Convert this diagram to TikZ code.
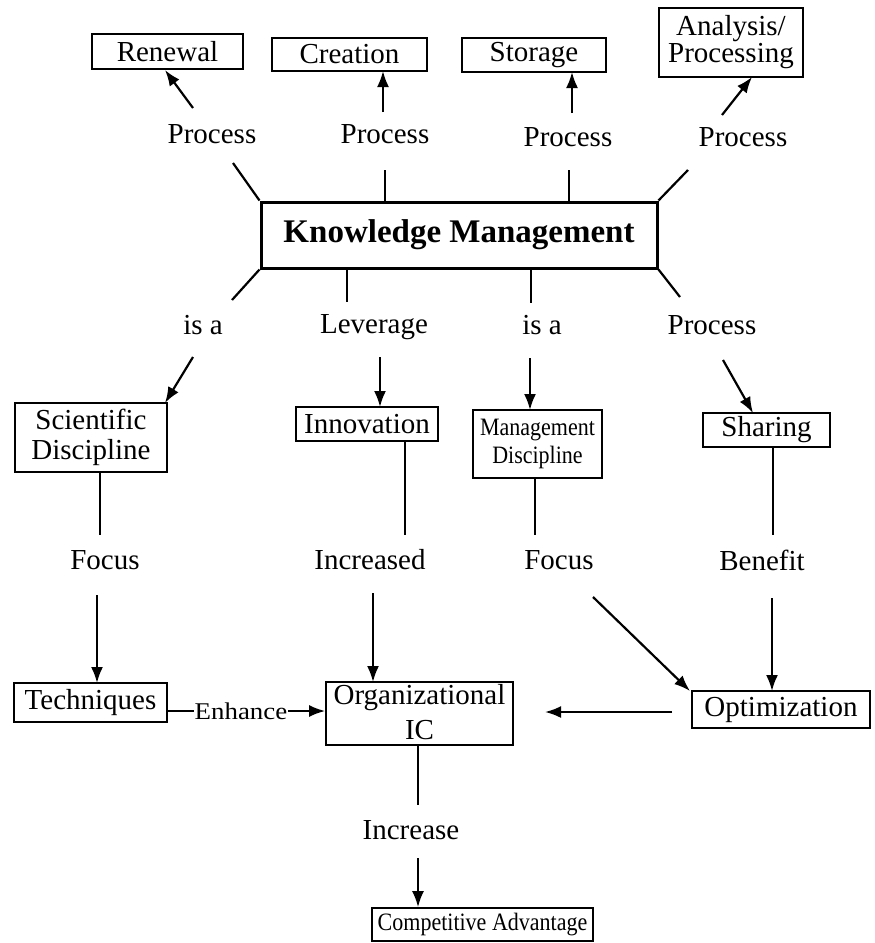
\documentclass[tikz,border=0pt]{standalone}
\usepackage{fontspec}
\setmainfont{Liberation Serif}
\usetikzlibrary{arrows.meta,calc}
\newcommand{\lblfont}{\fontsize{29}{30}\selectfont}
\newcommand{\narrowbox}{\fontsize{25}{28}\selectfont}
\newcommand{\nrw}[1]{\scalebox{0.88}[1]{#1}}
\begin{document}
\begin{tikzpicture}[x=1pt,y=-1pt,
  box/.style={draw,line width=1.6pt,inner sep=0pt,font=\lblfont,align=center},
  lab/.style={inner sep=0pt,font=\lblfont},
  ln/.style={line width=2.2pt},
  arr/.style={ln,-{Latex[length=16pt,width=12pt]}}]
\fill[white] (0,0) rectangle (875,943);
\useasboundingbox (0,0) rectangle (875,943);

% top row of process targets
\node[box,minimum width=151,minimum height=35] (renewal) at (167.5,51.5) {Renewal};
\node[box,minimum width=155,minimum height=33] (creation) at (349.5,54.5) {Creation};
\node[box,minimum width=144,minimum height=34] (storage) at (534,55) {Storage};
\node[box,minimum width=144,minimum height=69] (analysis) at (731,42.5) {Analysis/\\[-3pt]Processing};

\node[lab] (p1) at (212,134) {Process};
\node[lab] (p2) at (385,134) {Process};
\node[lab] (p3) at (568,137) {Process};
\node[lab] (p4) at (743,137) {Process};

% central concept
\node[draw,line width=3pt,inner sep=0pt,minimum width=396,minimum height=66,
      font=\fontsize{33}{36}\selectfont\bfseries] (km) at (459,235) {Knowledge Management};

% connectors to the top row
\coordinate (t1a) at (193,108); \coordinate (t1b) at (165,70);
\coordinate (t2a) at (383,112); \coordinate (t2b) at (383,71);
\coordinate (t3a) at (572,113); \coordinate (t3b) at (572,72);
\coordinate (t4a) at (722,115); \coordinate (t4b) at (752,77);
\draw[arr] (t1a) -- (t1b);
\draw[arr] (t2a) -- (t2b);
\draw[arr] (t3a) -- (t3b);
\draw[arr] (t4a) -- (t4b);

\coordinate (u1) at (233,163);
\coordinate (u2) at (385,170); \coordinate (u2k) at (385,202);
\coordinate (u3) at (569,170); \coordinate (u3k) at (569,202);
\coordinate (u4) at (688,170);
\draw[ln] (u1) -- (km.north west);
\draw[ln] (u2) -- (u2k);
\draw[ln] (u3) -- (u3k);
\draw[ln] (u4) -- (km.north east);

% second row
\coordinate (d1) at (232,300);
\coordinate (d2k) at (347,268); \coordinate (d2) at (347,302);
\coordinate (d3k) at (531,268); \coordinate (d3) at (531,303);
\coordinate (d4) at (680,297);
\draw[ln] (km.south west) -- (d1);
\draw[ln] (d2k) -- (d2);
\draw[ln] (d3k) -- (d3);
\draw[ln] (km.south east) -- (d4);

\node[lab] (isa1) at (203,325) {is a};
\node[lab] (lev) at (374,327) {Leverage};
\node[lab] (isa2) at (542,325) {is a};
\node[lab] (p5) at (712,325) {Process};

\node[box,minimum width=152,minimum height=69] (sci) at (91,437.5) {Scientific\\Discipline};
\node[box,minimum width=142,minimum height=34] (innov) at (367,424) {Innovation};
\node[box,minimum width=129,minimum height=68,font=\narrowbox] (mgmt) at (537.5,444) {\nrw{Management}\\\nrw{Discipline}};
\node[box,minimum width=127,minimum height=34] (sharing) at (766.5,430) {Sharing};

\coordinate (s1a) at (193,357); \coordinate (s1b) at (165,403);
\coordinate (s2a) at (380,357); \coordinate (s2b) at (380,407);
\coordinate (s3a) at (530,358); \coordinate (s3b) at (530,410);
\coordinate (s4a) at (723,360); \coordinate (s4b) at (753,413);
\draw[arr] (s1a) -- (s1b);
\draw[arr] (s2a) -- (s2b);
\draw[arr] (s3a) -- (s3b);
\draw[arr] (s4a) -- (s4b);

% third row
\coordinate (v1a) at (100,472); \coordinate (v1b) at (100,535);
\coordinate (v2a) at (405,441); \coordinate (v2b) at (405,535);
\coordinate (v3a) at (535,478); \coordinate (v3b) at (535,535);
\coordinate (v4a) at (773,447); \coordinate (v4b) at (773,535);
\draw[ln] (v1a) -- (v1b);
\draw[ln] (v2a) -- (v2b);
\draw[ln] (v3a) -- (v3b);
\draw[ln] (v4a) -- (v4b);

\node[lab] (focus1) at (105,560) {Focus};
\node[lab] (incr) at (370,560) {Increased};
\node[lab] (focus2) at (559,560) {Focus};
\node[lab] (benefit) at (762,560) {Benefit};

\node[box,minimum width=153,minimum height=39] (tech) at (90.5,702.5) {Techniques};
\node[box,minimum width=187,minimum height=63] (org) at (419.5,713.5) {};
\node[lab,anchor=base] (orgt) at (419.5,704) {Organizational};
\node[lab,anchor=base] (orgic) at (419.5,739) {IC};
\node[box,minimum width=178,minimum height=37] (optim) at (781,709.5) {Optimization};

\coordinate (w1a) at (97,595); \coordinate (w1b) at (97,683);
\coordinate (w2a) at (373,593); \coordinate (w2b) at (373,682);
\coordinate (w3a) at (593,597); \coordinate (w3b) at (690,691);
\coordinate (w4a) at (772,598); \coordinate (w4b) at (772,691);
\draw[arr] (w1a) -- (w1b);
\draw[arr] (w2a) -- (w2b);
\draw[arr] (w3a) -- (w3b);
\draw[arr] (w4a) -- (w4b);

\node[inner sep=1pt,font=\fontsize{24}{26}\selectfont] (enh) at (241,711) {\scalebox{1.12}[1]{Enhance}};
\draw[ln] (tech.east |- enh) -- (enh.west);
\draw[arr] (enh.east) -- (org.west |- enh);
\coordinate (o1) at (672,712); \coordinate (o2) at (545,712);
\draw[arr] (o1) -- (o2);

% bottom
\coordinate (x1a) at (418,745); \coordinate (x1b) at (418,805);
\draw[ln] (x1a) -- (x1b);
\node[lab] (incr2) at (411,830) {Increase};
\node[box,minimum width=221,minimum height=33,font=\narrowbox] (ca) at (482.5,924.5) {\nrw{Competitive Advantage}};
\coordinate (x2a) at (418,858);
\draw[arr] (x2a) -- (ca.north -| x2a);
\end{tikzpicture}
\end{document}
